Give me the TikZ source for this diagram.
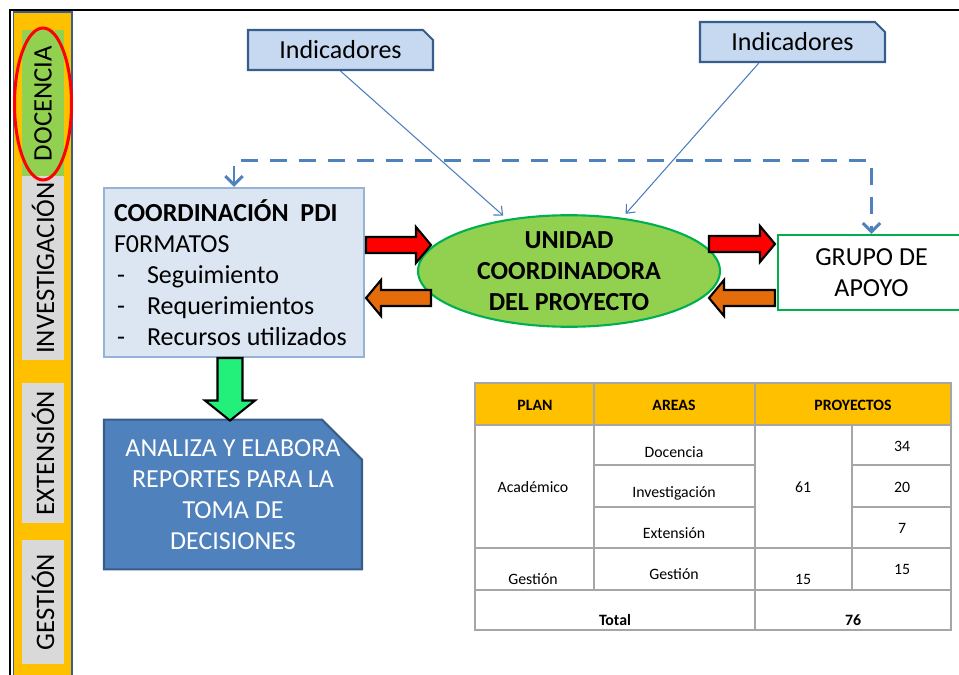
\documentclass[tikz,border=0pt]{standalone}
\usepackage{fontspec}
\setmainfont{Carlito}
\usetikzlibrary{shapes.geometric,shapes.misc,arrows.meta,calc}

\definecolor{naranja}{HTML}{FFC000}
\definecolor{azulborde}{HTML}{385D8A}
\definecolor{azulind}{HTML}{C6D9F1}
\definecolor{azulfondo}{HTML}{DCE6F2}
\definecolor{azulcaja}{HTML}{95B3D7}
\definecolor{azulfuerte}{HTML}{4F81BD}
\definecolor{azullinea}{HTML}{4A7EBB}
\definecolor{verdeuc}{HTML}{92D050}
\definecolor{verdeborde}{HTML}{00B050}
\definecolor{grisclaro}{HTML}{D9D9D9}
\definecolor{rojo}{HTML}{FF0000}
\definecolor{naranjafl}{HTML}{E46C0A}
\definecolor{verdefl}{HTML}{22F07A}
\definecolor{gristabla}{HTML}{A6A6A6}

\newcommand\grande{\fontsize{14.8}{17.6}\selectfont}
\newcommand\chica{\fontsize{9}{11}\selectfont}
\newcommand\guion{\makebox[0.66cm][l]{\hspace{0.06cm}-}}
% flecha de bloque: desde, hasta, color, medio cuerpo, media punta, largo punta
\newcommand\flecha[6]{%
  \filldraw[fill=#3, draw=black, line width=1.2pt, line join=miter]
    ($(#1)!#4!90:(#2)$) -- ($(#2)!#6!(#1)!#4!90:(#2)$)
    -- ($(#2)!#6!(#1)!#5!90:(#2)$) -- (#2)
    -- ($(#2)!#6!(#1)!#5!-90:(#2)$) -- ($(#2)!#6!(#1)!#4!-90:(#2)$)
    -- ($(#1)!#4!-90:(#2)$) -- cycle;}

\begin{document}
\begin{tikzpicture}[x=0.02cm, y=-0.02cm,
  etiq/.style={rotate=90, fill=#1, minimum height=0.86cm, inner sep=0pt, font=\fontsize{15.2}{17}\selectfont},
  indic/.style={chamfered rectangle, chamfered rectangle corners=north east, chamfered rectangle sep=0.1cm,
    draw=azulborde, fill=azulind, line width=1.2pt, minimum width=3.7cm, minimum height=0.8cm, inner sep=0pt, font=\grande},
  unir/.style={draw=azullinea, line width=0.6pt, shorten >=3pt, -{Straight Barb[length=4pt,width=7pt]}},
  celda/.style={font=\chica, inner sep=0pt},
  encab/.style={font=\chica\bfseries, inner sep=0pt}]
	\useasboundingbox (0,0) rectangle (959,675);
	%Marco y barra lateral
	\draw[black, line width=1.2pt] (10,680) -- (10,10) -- (965,10);
	\filldraw[fill=naranja, draw=azulborde, line width=0.8pt] (13.5,12) rectangle (72,680);
	\node[etiq=verdeuc, minimum width=2.94cm] (doc) at (43,103.5) {DOCENCIA};
	\node[etiq=grisclaro, minimum width=3.68cm] (inv) at (43,268) {INVESTIGACIÓN};
	\node[etiq=grisclaro, minimum width=2.8cm] (ext) at (43,453) {EXTENSIÓN};
	\node[etiq=grisclaro, minimum width=2.5cm] (ges) at (43,602) {GESTIÓN};
	\node[ellipse, draw=rojo, line width=1.7pt, minimum width=1.14cm, minimum height=3.04cm] (marca) at (43,104) {};

	%Cajas
	\node[indic] (ind1) at (340.5,50) {Indicadores};
	\node[indic] (ind2) at (792.5,42) {Indicadores};
	\node[draw=azulcaja, fill=azulfondo, line width=1.2pt, minimum height=3.38cm, text width=4.8cm,
	  inner xsep=0.2cm, inner ysep=0pt, align=flush left, font=\grande] (coord) at (234,272.5)
	  {\textbf{COORDINACIÓN\ \ PDI}\\ F0RMATOS\\ \guion Seguimiento\\ \guion Requerimientos\\ \guion Recursos utilizados};
	\node[ellipse, draw=verdeborde, fill=verdeuc, line width=1.2pt, minimum width=6.04cm, minimum height=1.92cm,
	  inner sep=0pt, align=center, font=\grande\bfseries] (uc) at (569,271) {UNIDAD\\ COORDINADORA\\ DEL PROYECTO};
	\node[draw=verdeborde, fill=white, line width=1.2pt, minimum width=3.74cm, minimum height=1.5cm,
	  align=center, font=\grande] (grupo) at (871.5,272.5) {GRUPO DE\\ APOYO};
	\node[chamfered rectangle, chamfered rectangle corners=north east, chamfered rectangle sep=0.4cm,
	  draw=azulborde, fill=azulfuerte, line width=1.2pt, minimum width=5.16cm, minimum height=2.74cm,
	  inner sep=0pt, align=center, text=white, font=\grande] (analiza) at (233,494.5)
	  {ANALIZA Y ELABORA\\ REPORTES PARA LA\\ TOMA DE\\ DECISIONES};

	%Indicadores
	\draw[unir] (ind1.south) -- (uc.140);
	\draw[unir] ($(ind2.south west)!0.32!(ind2.south east)$) -- (uc.45);
	%Linea punteada
	\draw[azulfuerte, line width=1.7pt, dash pattern=on 0.34cm off 0.24cm,
	  {Straight Barb[length=5pt,width=10pt]}-{Straight Barb[length=5pt,width=10pt]}]
	  (coord.north) -- ++(0,-26) -| (grupo.north);

	%Flechas de bloque
	\coordinate (r1a) at ($(coord.east)+(1,-27.5)$);
	\coordinate (r1b) at ($(uc.west)+(14,-26)$);
	\coordinate (n1a) at ($(uc.west)+(14,27)$);
	\coordinate (n1b) at ($(coord.east)+(1,25.5)$);
	\coordinate (r2a) at ($(uc.east)+(-12,-27)$);
	\coordinate (r2b) at ($(grupo.west)+(-2,-28.5)$);
	\coordinate (n2a) at ($(grupo.west)+(-2,25.5)$);
	\coordinate (n2b) at ($(uc.east)+(-12,27)$);
	\coordinate (va) at ($(coord.south)+(-4,0)$);
	\coordinate (vb) at ($(analiza.north)+(-3,2)$);
	\flecha{r1a}{r1b}{rojo}{0.16cm}{0.36cm}{0.3cm}
	\flecha{n1a}{n1b}{naranjafl}{0.16cm}{0.36cm}{0.3cm}
	\flecha{r2a}{r2b}{rojo}{0.16cm}{0.36cm}{0.3cm}
	\flecha{n2a}{n2b}{naranjafl}{0.16cm}{0.36cm}{0.3cm}
	\flecha{va}{vb}{verdefl}{0.25cm}{0.5cm}{0.4cm}

	%Tabla
	\fill[naranja] (475,383) rectangle (951,425);
	\draw[gristabla, line width=0.8pt] (475,383) rectangle (951,630)
	  (475,425) -- (951,425) (475,548) -- (951,548) (475,590) -- (951,590)
	  (594,383) -- (594,590) (755,383) -- (755,630) (852,425) -- (852,590)
	  (594,465) -- (755,465) (594,507) -- (755,507) (852,465) -- (951,465) (852,507) -- (951,507);
	\node[encab] (tplan) at (535,405) {PLAN};
	\node[encab] (tareas) at (674,405) {AREAS};
	\node[encab] (tproy) at (853,405) {PROYECTOS};
	\node[celda] (tacad) at (533,487) {Académico};
	\node[celda] (tdoc) at (674,452) {Docencia};
	\node[celda] (tinv) at (674,493) {Investigación};
	\node[celda] (text) at (674,533) {Extensión};
	\node[celda] (t61) at (803,487) {61};
	\node[celda] (t34) at (902,446) {34};
	\node[celda] (t20) at (902,487) {20};
	\node[celda] (t7) at (902,528) {7};
	\node[celda] (tgesa) at (533,579) {Gestión};
	\node[celda] (tgesb) at (674,574) {Gestión};
	\node[celda] (t15a) at (803,579) {15};
	\node[celda] (t15b) at (902,569) {15};
	\node[encab] (ttot) at (615,620) {Total};
	\node[encab] (t76) at (853,620) {76};
\end{tikzpicture}
\end{document}
